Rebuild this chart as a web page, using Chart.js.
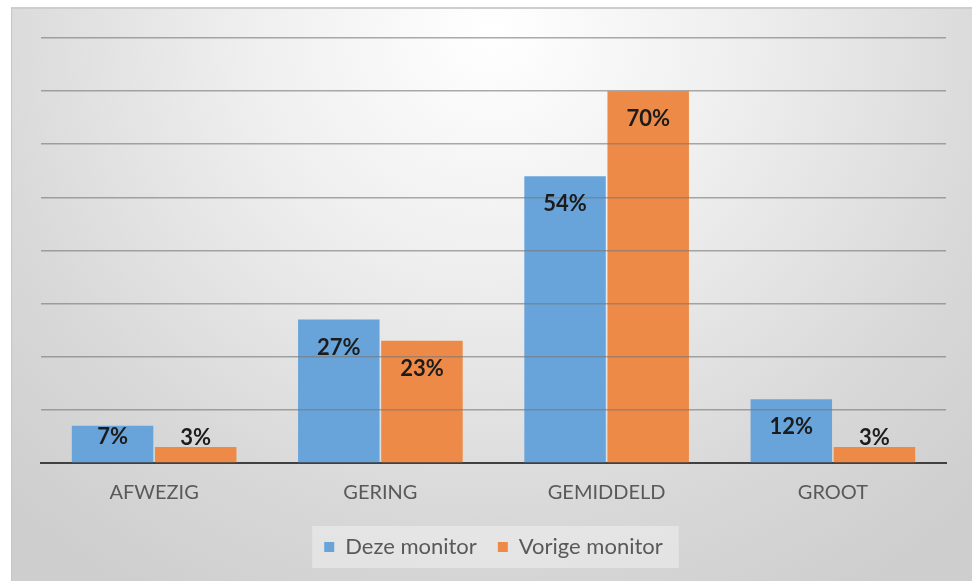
<!DOCTYPE html>
<html>
<head>
<meta charset="utf-8">
<script src="https://cdn.jsdelivr.net/npm/chart.js@4"></script>
<style>
  html, body { margin: 0; padding: 0; background: #fff; }
  #frame {
    position: absolute; left: 11px; top: 7px; width: 961px; height: 574px;
    box-sizing: border-box;
    border-top: 2px solid #cdcdcd; border-left: 1px solid #c6c6c6;
    background: radial-gradient(ellipse 72% 115% at 50% 4%, #ffffff 0%, #efefef 35%, #d8d8d8 75%, #cecece 100%);
  }
  #chart { display: block; }
</style>
</head>
<body>
<div id="frame"><canvas id="chart" width="960" height="572"></canvas></div>
<script>
const categories = ['AFWEZIG', 'GERING', 'GEMIDDELD', 'GROOT'];
const dezeMonitor = [7, 27, 54, 12];
const vorigeMonitor = [3, 23, 70, 3];
const seriesNames = ['Deze monitor', 'Vorige monitor'];
const yTicks = [0, 10, 20, 30, 40, 50, 60, 70, 80];

const legendBack = {
  id: 'legendBack',
  beforeDraw: (chart) => {
    const boxes = chart.legend && chart.legend.legendHitBoxes;
    if (!boxes || !boxes.length) return;
    const left = Math.min(...boxes.map(b => b.left)) - 12;
    const right = Math.max(...boxes.map(b => b.left + b.width)) + 16;
    const top = Math.min(...boxes.map(b => b.top)) - 10;
    const bottom = Math.max(...boxes.map(b => b.top + b.height)) + 10;
    const {ctx} = chart;
    ctx.save();
    ctx.fillStyle = 'rgba(255, 255, 255, 0.35)';
    ctx.fillRect(left, top, right - left, bottom - top);
    ctx.restore();
  }
};

const barLabels = {
  id: 'barLabels',
  afterDraw: (chart) => {
    const {ctx} = chart;
    ctx.save();
    ctx.font = 'bold 22px Lato, "Open Sans", sans-serif';
    ctx.fillStyle = '#1c1c1c';
    ctx.textAlign = 'center';
    ctx.textBaseline = 'middle';
    chart.data.datasets.forEach((ds, i) => {
      chart.getDatasetMeta(i).data.forEach((bar, j) => {
        const h = bar.base - bar.y;
        let y;
        if (h > 60) y = bar.y + 28;
        else if (h > 25) y = bar.y + h / 2 - 7;
        else y = bar.y - 9;
        ctx.fillText(ds.data[j] + '%', bar.x, y);
      });
    });
    ctx.restore();
  }
};

new Chart(document.getElementById('chart'), {
  type: 'bar',
  data: {
    labels: categories,
    datasets: [
      { label: seriesNames[0], data: dezeMonitor, backgroundColor: '#68A4DA' },
      { label: seriesNames[1], data: vorigeMonitor, backgroundColor: '#EE8A47' }
    ]
  },
  options: {
    responsive: false,
    animation: false,
    layout: { padding: { left: 29, right: 26, top: 29, bottom: 13 } },
    categoryPercentage: 0.735,
    barPercentage: 0.98,
    scales: {
      x: {
        grid: { display: false },
        border: { display: true, color: '#404040', width: 2 },
        ticks: { color: '#595959', padding: 10, font: { family: 'Lato, "Open Sans", sans-serif', size: 20 } }
      },
      y: {
        min: 0, max: 80,
        afterBuildTicks: (scale) => { scale.ticks = yTicks.map(v => ({ value: v })); },
        ticks: { display: false },
        border: { display: false },
        grid: {
          z: 1,
          drawTicks: false,
          lineWidth: 1.6,
          color: (c) => c.tick && c.tick.value === 0 ? 'rgba(0,0,0,0)' : 'rgba(120,120,120,0.62)'
        }
      }
    },
    plugins: {
      tooltip: { enabled: false },
      legend: {
        position: 'bottom',
        labels: {
          boxWidth: 10, boxHeight: 10, padding: 21,
          color: '#595959',
          font: { family: 'Lato, "Open Sans", sans-serif', size: 22 }
        }
      }
    }
  },
  plugins: [legendBack, barLabels]
});
</script>
</body>
</html>
